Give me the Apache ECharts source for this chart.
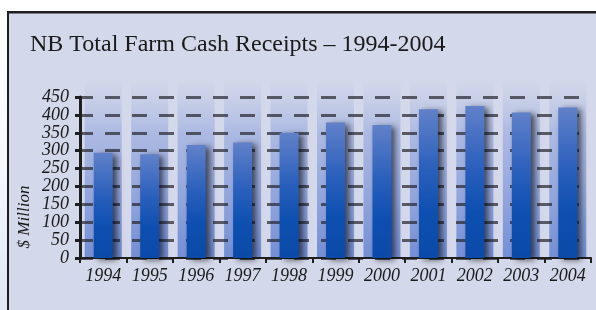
<!DOCTYPE html>
<html>
<head>
<meta charset="utf-8">
<style>
  html, body { margin: 0; padding: 0; background: #fff; }
  #main { width: 596px; height: 310px; }
</style>
<script src="https://cdn.jsdelivr.net/npm/echarts@6/dist/echarts.min.js"></script>
</head>
<body>
<div id="main"></div>
<script>
var years = ['1994','1995','1996','1997','1998','1999','2000','2001','2002','2003','2004'];
var receipts = [294, 290, 316, 323, 350, 379, 372, 416, 425, 407, 421];
var yMin = 0, yMax = 450, yStep = 50;
var bandTop = 500; // decorative columns fade out a little above the top tick

var chart = echarts.init(document.getElementById('main'));
var serif = '"Liberation Serif", "DejaVu Serif", serif';

var option = {
    backgroundColor: '#d3d8ea',
    animation: false,
    grid: { left: 80, right: 5, top: 97, bottom: 52 },
    graphic: [
        { type: 'rect', z: 100, shape: { x: 0, y: 0, width: 596, height: 11 }, style: { fill: '#fff' } },
        { type: 'rect', z: 100, shape: { x: 0, y: 0, width: 7, height: 310 },
          style: { fill: new echarts.graphic.LinearGradient(0, 0, 0, 1, [
              { offset: 0, color: '#ffffff' }, { offset: 0.55, color: '#f4f7fb' }, { offset: 1, color: '#dfe7f3' }]) } },
        { type: 'rect', z: 101, shape: { x: 7, y: 11, width: 589, height: 2.5 }, style: { fill: '#1e1e1e' } },
        { type: 'rect', z: 101, shape: { x: 7, y: 11, width: 2, height: 299 }, style: { fill: '#1e1e1e' } },
        { type: 'text', z: 50, left: 30, top: 33,
          style: { text: 'NB Total Farm Cash Receipts – 1994-2004', font: '24px ' + serif, fill: '#1a1a1a' } },
        { type: 'text', z: 50, x: 25, y: 217, rotation: Math.PI / 2,
          style: { text: '$ Million', font: 'italic 17px ' + serif, fill: '#1a1a1a',
                   align: 'center', verticalAlign: 'middle' } }
    ],
    xAxis: [{
        type: 'category',
        data: years,
        boundaryGap: true,
        axisLine: { lineStyle: { color: '#1e1e1e', width: 2 } },
        axisTick: { show: true, length: 5, lineStyle: { color: '#1e1e1e', width: 2 } },
        axisLabel: { interval: 0, color: '#1a1a1a', fontFamily: serif, fontStyle: 'italic', fontSize: 18, margin: 9 }
    }, {
        type: 'category',
        data: years,
        show: false
    }],
    yAxis: {
        type: 'value',
        min: yMin, max: yMax, interval: yStep,
        axisLine: { show: true, lineStyle: { color: '#1e1e1e', width: 3 } },
        axisTick: { show: true, length: 5, lineStyle: { color: '#1e1e1e', width: 3 } },
        axisLabel: { color: '#1a1a1a', fontFamily: serif, fontStyle: 'italic', fontSize: 18, margin: 11 },
        splitLine: { show: true, lineStyle: { color: 'rgba(40,40,48,0.72)', width: 3, type: [15, 12], dashOffset: 2 } }
    },
    series: [{
        name: 'band',
        type: 'bar',
        xAxisIndex: 1,
        data: years.map(function () { return bandTop; }),
        barWidth: 37,
        clip: false,
        silent: true,
        z: -1,
        itemStyle: {
            color: new echarts.graphic.LinearGradient(0, 0, 0, 1, [
                { offset: 0, color: 'rgba(160,176,222,0)' },
                { offset: 0.3, color: 'rgba(140,160,220,0.55)' },
                { offset: 1, color: 'rgba(110,138,212,0.95)' }
            ])
        }
    }, {
        name: '$ Million',
        type: 'bar',
        data: receipts,
        barWidth: 19,
        itemStyle: {
            color: new echarts.graphic.LinearGradient(0, 0, 0, 1, [
                { offset: 0, color: '#6181c9' },
                { offset: 0.4, color: '#2b60bd' },
                { offset: 0.7, color: '#0d4fb0' },
                { offset: 1, color: '#0b4aa8' }
            ]),
            shadowColor: 'rgba(0,0,0,0.6)',
            shadowBlur: 6,
            shadowOffsetX: 4,
            shadowOffsetY: 2
        }
    }]
};
chart.setOption(option);
</script>
</body>
</html>
